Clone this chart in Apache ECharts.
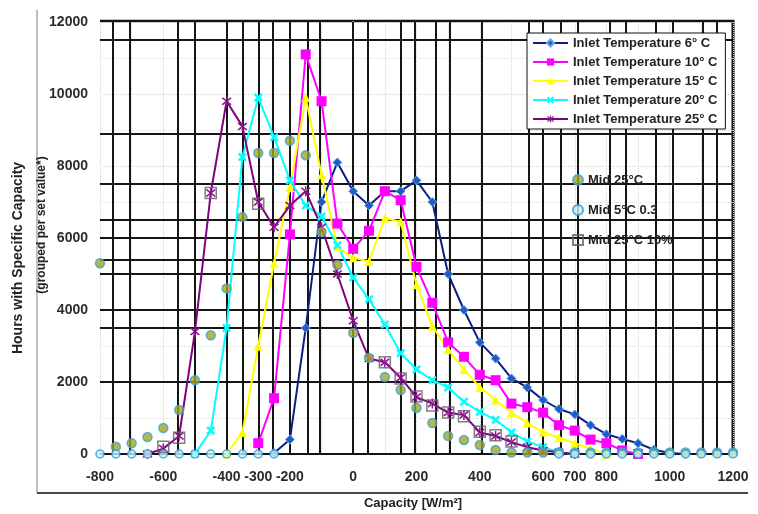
<!DOCTYPE html>
<html>
<head>
<meta charset="utf-8">
<title>Hours with Specific Capacity</title>
<script src="https://cdn.jsdelivr.net/npm/echarts@6/dist/echarts.min.js"></script>
<style>
  html, body { margin: 0; padding: 0; background: #fff; }
  #chart { width: 758px; height: 514px; }
</style>
</head>
<body>
<div id="chart"></div>
<script>
// Capacity classes [W/m²], one every 50
const capacity = [-800, -750, -700, -650, -600, -550, -500, -450, -400, -350,
  -300, -250, -200, -150, -100, -50, 0, 50, 100, 150,
  200, 250, 300, 350, 400, 450, 500, 550, 600, 650,
  700, 750, 800, 850, 900, 950, 1000, 1050, 1100, 1150, 1200];

// Simulated hours per capacity class for each inlet temperature
const inlet6 = [null, null, null, null, null, null, null, null, null, null,
  null, 30, 400, 3500, 7000, 8100, 7300, 6900, 7300, 7300,
  7600, 7000, 5000, 4000, 3100, 2650, 2100, 1850, 1500, 1250,
  1100, 800, 550, 420, 300, 120, 30, 0, null, null, null];
const inlet10 = [null, null, null, null, null, null, null, null, null, null,
  300, 1550, 6100, 11100, 9800, 6400, 5700, 6200, 7300, 7050,
  5200, 4200, 3100, 2700, 2200, 2050, 1400, 1300, 1150, 800,
  650, 400, 300, 100, 0, null, null, null, null, null, null];
const inlet15 = [null, null, null, null, null, null, null, null, 0, 600,
  3000, 5300, 7400, 9900, 7750, 5750, 5450, 5350, 6550, 6450,
  4700, 3550, 2900, 2350, 1850, 1500, 1150, 860, 610, 450,
  300, 150, 0, null, null, null, null, null, null, null, null];
const inlet20 = [null, null, null, null, null, null, 0, 650, 3500, 8250,
  9900, 8800, 7600, 6900, 6600, 5800, 4900, 4300, 3600, 2800,
  2350, 2050, 1850, 1450, 1170, 950, 600, 350, 190, 50,
  0, null, null, null, null, null, null, null, null, null, null];
const inlet25 = [null, null, null, 0, 150, 500, 3400, 7250, 9800, 9100,
  7000, 6300, 6900, 7300, 6300, 5000, 3700, 2650, 2550, 2120,
  1580, 1400, 1150, 1080, 600, 500, 330, 190, 100, 50,
  0, null, null, null, null, null, null, null, null, null, null];

// Measured hours per capacity class
const mid25 = [5300, 200, 300, 470, 720, 1220, 2050, 3300, 4600, 6580,
  8360, 8360, 8700, 8300, 6170, 5250, 3360, 2670, 2140, 1780,
  1280, 860, 500, 390, 250, 110, 40, 40, 40, 40,
  40, 40, 40, 40, 40, 40, 40, 40, 40, 40, 40];
const mid5 = [0, 0, 0, 0, 0, 0, 0, 0, 0, 0,
  0, 0, null, null, null, null, null, null, null, null,
  null, null, null, null, null, null, null, null, null, 0,
  0, 0, 0, 0, 0, 0, 0, 0, 0, 0, 0];
const mid25p10 = [null, null, null, null, 200, 450, null, 7250, null, null,
  6950, null, null, null, null, null, null, null, 2550, 2100,
  1600, 1350, 1150, 1050, 620, 520, 350, null, null, null,
  null, null, null, null, null, null, null, null, null, null, null];

const simNames = ['Inlet Temperature 6° C', 'Inlet Temperature 10° C', 'Inlet Temperature 15° C',
  'Inlet Temperature 20° C', 'Inlet Temperature 25° C'];
const measNames = ['Mid 25°C', 'Mid 5°C 0.3', 'Mid 25°C 10%'];

// Axis labels shown on the capacity axis
const xTickLabels = [-800, -600, -400, -300, -200, 0, 200, 400, 600, 700, 800, 1000, 1200];

// Heavy grid lines of the plot frame
const gridX = [-760, -705, -555, -500, -400, -350, -300, -255, -200, -145, -105, 0, 45,
  150, 195, 260, 305, 405, 555, 600, 655, 710, 810, 860, 955, 1010, 1105, 1150];
const gridY = [0, 2000, 3500, 4000, 5000, 5400, 6000, 6500, 7500, 8900, 11500];

const FONT = '"Liberation Sans", Arial, sans-serif';
const xShape = 'path://M2,0L5,3L8,0L10,2L7,5L10,8L8,10L5,7L2,10L0,8L3,5L0,2Z';
const starShape = 'path://M2,1L5,4L8,1L9,2L6,5L9,8L8,9L5,6L2,9L1,8L4,5L1,2Z M4.4,0L4.4,10L5.6,10L5.6,0Z';

const pairs = (vals) => capacity.map((c, i) => [c, vals[i]]);

function lineSeries(name, vals, color, markerColor, symbol, size, extra) {
  return Object.assign({
    name: name,
    type: 'line',
    data: pairs(vals),
    symbol: symbol,
    symbolSize: size,
    showAllSymbol: true,
    connectNulls: false,
    z: 3,
    lineStyle: { color: color, width: 2 },
    itemStyle: { color: markerColor }
  }, extra || {});
}

const chart = echarts.init(document.getElementById('chart'), null, { renderer: 'canvas' });

const option = {
  animation: false,
  backgroundColor: '#ffffff',
  grid: { left: 100, right: 25, top: 22, bottom: 60 },
  xAxis: {
    type: 'value',
    min: -800,
    max: 1200,
    interval: 100,
    axisLine: { show: false },
    axisTick: { show: false },
    splitLine: { show: true, lineStyle: { color: '#d4d4d4', type: 'dotted', width: 1 } },
    axisLabel: {
      margin: 16,
      fontFamily: FONT,
      fontSize: 14,
      fontWeight: 'bold',
      color: '#2b2b2b',
      formatter: (v) => (xTickLabels.indexOf(v) >= 0 ? String(v) : '')
    }
  },
  yAxis: {
    type: 'value',
    min: 0,
    max: 12000,
    interval: 2000,
    axisLine: { show: true, lineStyle: { color: '#b5b5b5', width: 2 } },
    axisTick: { show: false },
    splitLine: { show: true, lineStyle: { color: '#d4d4d4', type: 'dotted', width: 1 } },
    minorTick: { show: false, splitNumber: 2 },
    minorSplitLine: { show: true, lineStyle: { color: '#dedede', type: 'dotted', width: 1 } },
    axisLabel: {
      margin: 12,
      fontFamily: FONT,
      fontSize: 14,
      fontWeight: 'bold',
      color: '#2b2b2b',
      formatter: (v) => String(v)
    }
  },
  legend: [
    {
      data: simNames,
      orient: 'vertical',
      left: 527,
      top: 33,
      itemWidth: 35,
      itemHeight: 9,
      itemGap: 5,
      padding: [3, 8, 3, 5],
      backgroundColor: '#ffffff',
      borderColor: '#111111',
      borderWidth: 1,
      borderRadius: 0,
      textStyle: { fontFamily: FONT, fontSize: 13, fontWeight: 'bold', lineHeight: 14, color: '#222' }
    },
    {
      data: measNames,
      orient: 'vertical',
      left: 572,
      top: 173,
      itemWidth: 10,
      itemHeight: 10,
      itemGap: 16,
      padding: 0,
      textStyle: { fontFamily: FONT, fontSize: 13, fontWeight: 'bold', lineHeight: 14, color: '#222' }
    }
  ],
  graphic: [
    { type: 'line', shape: { x1: 37, y1: 10, x2: 37, y2: 493 }, style: { stroke: '#a8a8a8', lineWidth: 1.5 }, silent: true },
    { type: 'line', shape: { x1: 37, y1: 493, x2: 748, y2: 493 }, style: { stroke: '#4a4a4a', lineWidth: 2 }, silent: true },
    { type: 'line', shape: { x1: 100, y1: 21, x2: 734, y2: 21 }, style: { stroke: '#111', lineWidth: 2.5 }, silent: true },
    { type: 'line', shape: { x1: 733, y1: 20, x2: 733, y2: 455 }, style: { stroke: '#111', lineWidth: 3 }, silent: true },
    {
      type: 'text', x: 18, y: 258, rotation: Math.PI / 2,
      style: { text: 'Hours with Specific Capacity', font: 'bold 14px ' + FONT, fill: '#222', align: 'center', verticalAlign: 'middle' }
    },
    {
      type: 'text', x: 42, y: 225, rotation: Math.PI / 2,
      style: { text: '(grouped per set value*)', font: 'bold 12px ' + FONT, fill: '#222', align: 'center', verticalAlign: 'middle' }
    },
    {
      type: 'text', x: 413, y: 503,
      style: { text: 'Capacity [W/m²]', font: 'bold 13px ' + FONT, fill: '#222', align: 'center', verticalAlign: 'middle' }
    }
  ],
  series: [
    {
      name: 'frame',
      type: 'line',
      data: [],
      z: 1,
      silent: true,
      markLine: {
        silent: true,
        z: 1,
        symbol: ['none', 'none'],
        label: { show: false },
        lineStyle: { color: '#151515', width: 2, type: 'solid' },
        emphasis: { disabled: true },
        data: gridX.map((v) => ({ xAxis: v })).concat(gridY.map((v) => ({ yAxis: v })))
      }
    },
    lineSeries(simNames[0], inlet6, '#0b1f86', '#1c5cc4', 'diamond', 9,
      { itemStyle: { color: '#1c5cc4', borderColor: '#6aa6ea', borderWidth: 1 } }),
    lineSeries(simNames[1], inlet10, '#ff00ff', '#ff00ff', 'rect', 10),
    lineSeries(simNames[2], inlet15, '#ffff00', '#ffff00', 'triangle', 9),
    lineSeries(simNames[3], inlet20, '#00ffff', '#00ffff', xShape, 9),
    lineSeries(simNames[4], inlet25, '#800080', '#8a1a8a', starShape, 10),
    {
      name: measNames[0],
      type: 'scatter',
      data: pairs(mid25),
      symbol: 'circle',
      symbolSize: 9,
      z: 4,
      itemStyle: { color: '#a9a51a', borderColor: '#39a3db', borderWidth: 1.5 }
    },
    {
      name: measNames[1],
      type: 'scatter',
      data: pairs(mid5),
      symbol: 'circle',
      symbolSize: 8,
      z: 4,
      itemStyle: { color: '#c8f0f4', borderColor: '#2b9ad8', borderWidth: 1.5 }
    },
    {
      name: measNames[2],
      type: 'scatter',
      data: pairs(mid25p10),
      symbol: 'rect',
      symbolSize: 11,
      z: 4,
      itemStyle: { color: 'rgba(255,255,255,0)', borderColor: '#6a5a6a', borderWidth: 1.5 }
    }
  ]
};

chart.setOption(option);
</script>
</body>
</html>
